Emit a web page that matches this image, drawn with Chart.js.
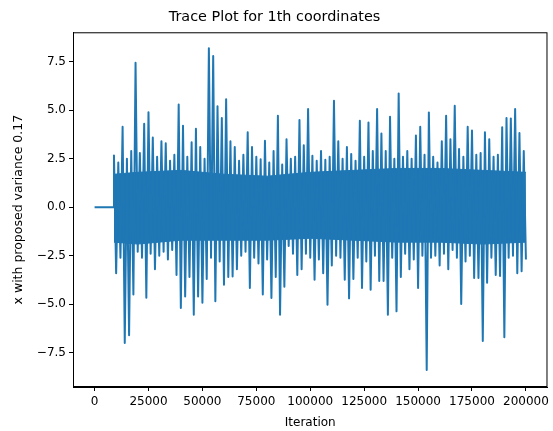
<!DOCTYPE html>
<html>
<head>
<meta charset="utf-8">
<script src="https://cdn.jsdelivr.net/npm/chart.js@4.4.1/dist/chart.umd.min.js"></script>
<style>
    body { margin: 0; background: #fff; }
    #box { width: 553px; height: 431px; }
</style>
</head>
<body>
<div id="box"><canvas id="grafico"></canvas></div>
<script>
// burn-in: chain sits at 0 until this iteration
const burnStart = 0
const burnEnd = 9000
const burnValue = 0

// each bin covers 2000 iterations: highest and lowest value per bin
const binStart = 9000
const binWidth = 2000
const binHigh = [
    2.67, 2.3, 4.15, 2.5, 2.9, 7.45, 2.8, 4.3, 4.9, 3.6,
    2.6, 3.4, 3.3, 2.4, 2.7, 5.3, 4.2, 2.6, 3.35, 4.05,
    3.1, 2.5, 8.2, 7.8, 5.2, 4.6, 5.57, 3.4, 3.1, 2.4,
    2.7, 3.86, 3.1, 2.6, 2.47, 3.43, 2.3, 2.9, 4.72, 2.2,
    3.5, 2.5, 2.6, 4.5, 3.2, 5.06, 2.65, 2.4, 2.9, 2.45,
    2.6, 5.49, 3.4, 2.5, 3.1, 2.75, 2.4, 4.46, 2.6, 4.37,
    2.9, 5.06, 3.8, 2.9, 4.67, 2.5, 5.86, 2.6, 2.9, 2.5,
    3.7, 4.15, 2.7, 4.89, 2.6, 2.3, 3.4, 4.72, 3.5, 5.23,
    3.0, 2.6, 4.15, 3.95, 2.7, 2.8, 3.86, 3.5, 2.6, 2.7,
    4.12, 4.6, 4.58, 5.06, 3.83, 2.9
]
const binLow = [
    -3.4, -2.6, -7.0, -6.6, -4.5, -2.3, -2.6, -4.67, -2.4, -3.2,
    -2.5, -2.3, -2.7, -2.2, -3.5, -5.2, -4.6, -3.6, -5.54, -4.6,
    -4.93, -3.7, -2.6, -4.85, -2.8, -4.0, -3.6, -3.57, -3.2, -2.5,
    -2.3, -4.17, -2.6, -2.9, -4.5, -2.7, -4.68, -3.6, -5.54, -4.1,
    -2.0, -2.4, -3.5, -3.2, -2.4, -2.6, -3.74, -2.7, -3.4, -5.03,
    -3.0, -2.5, -2.6, -3.74, -4.7, -3.7, -2.6, -4.17, -2.8, -4.26,
    -2.5, -3.8, -3.8, -5.54, -2.6, -5.37, -3.6, -2.4, -3.2, -2.7,
    -4.17, -2.5, -8.39, -2.6, -2.5, -3.0, -2.4, -3.2, -2.2, -2.6,
    -4.99, -2.8, -2.5, -3.65, -3.65, -6.9, -3.9, -2.6, -3.5, -3.55,
    -6.7, -2.6, -2.5, -3.4, -3.3, -2.7
]

// solid body of the trace (where the line covers every pixel), read at a coarser step
const coreIter = [9000, 20000, 40000, 60000, 80000, 100000, 120000, 140000, 160000, 180000, 200000]
const coreTop = [1.7, 1.8, 1.9, 1.7, 1.6, 1.8, 1.9, 2.0, 2.0, 1.9, 1.8]
const coreBottom = [-1.8, -1.9, -1.7, -1.7, -1.7, -1.6, -1.7, -1.8, -1.8, -1.9, -1.8]

const xTicks = [0, 25000, 50000, 75000, 100000, 125000, 150000, 175000, 200000]
const yTicks = [-7.5, -5.0, -2.5, 0.0, 2.5, 5.0, 7.5]

let pontos = [
    { x: burnStart, y: burnValue },
    { x: burnEnd, y: burnValue }
]
for (let i = 0; i < binHigh.length; i++) {
    pontos.push({ x: binStart + binWidth * i, y: binHigh[i] })
    pontos.push({ x: binStart + binWidth * i + binWidth / 2, y: binLow[i] })
}

const topo = coreIter.map((x, i) => ({ x: x, y: coreTop[i] }))
const fundo = coreIter.map((x, i) => ({ x: x, y: coreBottom[i] }))

const fonte = 'DejaVu Sans'
const azul = '#1f77b4'

// matplotlib style box round the plot
const moldura = {
    id: 'moldura',
    afterDraw(chart) {
        const a = chart.chartArea
        const c = chart.ctx
        c.save()
        c.strokeStyle = '#000'
        c.lineWidth = 1
        c.strokeRect(a.left + 0.5, a.top + 0.5, a.right - a.left - 1, a.bottom - a.top - 1)
        c.restore()
    }
}

const ctx = document.getElementById('grafico').getContext('2d')

const grafico = new Chart(ctx, {
    type: 'line',
    data: {
        datasets: [
            {
                data: pontos,
                borderColor: azul,
                borderWidth: 2,
                borderJoinStyle: 'round',
                pointRadius: 0,
                tension: 0
            },
            {
                data: topo,
                borderColor: azul,
                borderWidth: 1,
                backgroundColor: azul,
                pointRadius: 0,
                tension: 0,
                fill: '+1'
            },
            {
                data: fundo,
                borderColor: azul,
                borderWidth: 1,
                pointRadius: 0,
                tension: 0,
                fill: false
            }
        ]
    },
    options: {
        responsive: true,
        maintainAspectRatio: false,
        animation: false,
        layout: { padding: { left: 0, right: 4, top: 0, bottom: 0 } },
        plugins: {
            legend: { display: false },
            tooltip: { enabled: false },
            title: {
                display: true,
                text: 'Trace Plot for 1th coordinates',
                color: '#000',
                font: { family: fonte, size: 14.4, weight: 'normal' },
                padding: { top: 9, bottom: 6 }
            }
        },
        scales: {
            x: {
                type: 'linear',
                min: -10000,
                max: 210000,
                afterBuildTicks: (axis) => { axis.ticks = xTicks.map(v => ({ value: v })) },
                afterFit: (axis) => { axis.height = 44 },
                ticks: {
                    color: '#000',
                    font: { family: fonte, size: 12 },
                    padding: 4,
                    maxRotation: 0,
                    autoSkip: false,
                    callback: (v) => String(v)
                },
                grid: { drawOnChartArea: false, drawTicks: true, tickLength: 4, color: '#000' },
                border: { display: true, color: '#000' },
                title: {
                    display: true,
                    text: 'Iteration',
                    color: '#000',
                    font: { family: fonte, size: 12 },
                    padding: { top: 0, bottom: 1 }
                }
            },
            y: {
                min: -9.27,
                max: 9.02,
                afterBuildTicks: (axis) => { axis.ticks = yTicks.map(v => ({ value: v })) },
                afterFit: (axis) => { axis.width = 73 },
                ticks: {
                    color: '#000',
                    font: { family: fonte, size: 12 },
                    padding: 3,
                    autoSkip: false,
                    callback: (v) => v.toFixed(1).replace('-', '\u2212')
                },
                grid: { drawOnChartArea: false, drawTicks: true, tickLength: 4, color: '#000' },
                border: { display: true, color: '#000' },
                title: {
                    display: true,
                    text: 'x with proposed variance 0.17',
                    color: '#000',
                    font: { family: fonte, size: 12.5 },
                    padding: { top: 11, bottom: 0 }
                }
            }
        }
    },
    plugins: [moldura]
})
</script>
</body>
</html>
